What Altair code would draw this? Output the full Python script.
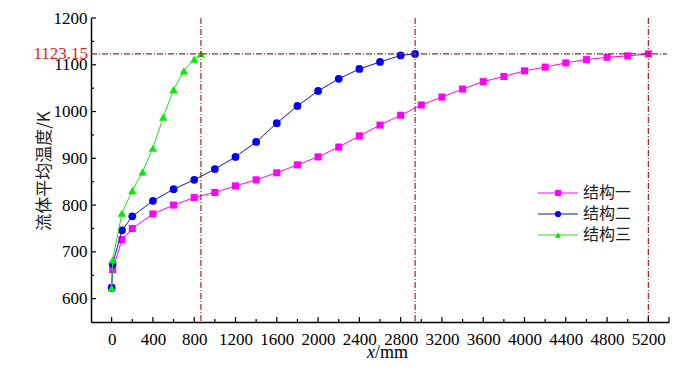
import altair as alt
import pandas as pd

# ---- data ----
x_s1 = [0, 10, 100, 200, 400, 600, 800, 1000, 1200, 1400, 1600, 1800, 2000, 2200,
        2400, 2600, 2800, 3000, 3200, 3400, 3600, 3800, 4000, 4200, 4400, 4600,
        4800, 5000, 5200]
y_s1 = [623, 662, 726, 750, 781, 800, 816, 827, 841, 854, 869, 886, 903, 924,
        948, 971, 992, 1014, 1031, 1048, 1064, 1075, 1087, 1095, 1104, 1111,
        1116, 1119, 1123.15]

x_s2 = [0, 10, 100, 200, 400, 600, 800, 1000, 1200, 1400, 1600, 1800, 2000, 2200,
        2400, 2600, 2800, 2940]
y_s2 = [623, 674, 746, 776, 809, 834, 854, 877, 903, 935, 975, 1012, 1044, 1070,
        1091, 1106, 1120, 1123.15]

x_s3 = [0, 10, 100, 200, 300, 400, 500, 600, 700, 800, 865]
y_s3 = [623, 683, 783, 831, 871, 922, 988, 1047, 1087, 1112, 1123.15]

series_names = ["结构一", "结构二", "结构三"]
series_colors = ["#FF00FF", "#0000FF", "#00EE00"]
line_colors = ["#FF00FF", "#1515C8", "#22DD22"]
series_shapes = ["square", "circle", "triangle-up"]
marker_sizes = [50, 60, 70]

x_ticks_major = [0, 400, 800, 1200, 1600, 2000, 2400, 2800, 3200, 3600, 4000,
                 4400, 4800, 5200]
x_ticks_end = [5400]
x_ticks_minor = [200, 600, 1000, 1400, 1800, 2200, 2600, 3000, 3400, 3800, 4200,
                 4600, 5000]
y_ticks_major = [600, 700, 800, 900, 1000, 1100, 1200]
y_ticks_minor = [650, 750, 850, 950, 1050, 1150]

x_domain = [-200, 5400]
y_domain = [550, 1200]

vline_x = [865, 2940, 5200]
hline_y = [1123.15]
hline_label = "1123.15"

x_title_italic = "x"
x_title_rest = "/mm"
y_title = "流体平均温度/K"

W, H = 578, 304
SERIF = "Liberation Serif"
CJK = "Noto Sans CJK SC"
REF = "#B01E1E"

xs = alt.Scale(domain=x_domain, nice=False, zero=False)
ys = alt.Scale(domain=y_domain, nice=False, zero=False)
xaxis = alt.Axis(values=x_ticks_major, format="d", ticks=False, grid=False, title=None,
                 domainColor="black", domainWidth=1.5, labelFont=SERIF,
                 labelFontSize=17, labelColor="black", labelPadding=9,
                 labelOverlap=False, labelFlush=False)
yaxis = alt.Axis(values=y_ticks_major, format="d", ticks=False, grid=False, title=None,
                 domainColor="black", domainWidth=1.5, labelFont=SERIF,
                 labelFontSize=17, labelColor="black", labelPadding=4,
                 labelOverlap=False, labelFlush=False)


def X(f):
    return alt.X(f, type="quantitative", scale=xs, axis=xaxis)


def Y(f):
    return alt.Y(f, type="quantitative", scale=ys, axis=yaxis)


layers = []

# series
for xv, yv, i in [(x_s1, y_s1, 0), (x_s2, y_s2, 1), (x_s3, y_s3, 2)]:
    df = pd.DataFrame({"x": xv, "y": yv})
    base = alt.Chart(df)
    layers.append(base.mark_line(color=line_colors[i], strokeWidth=1).encode(
        x=X("x"), y=Y("y")))
    layers.append(base.mark_point(filled=True, opacity=1, shape=series_shapes[i],
                                  size=marker_sizes[i], color=series_colors[i]).encode(
        x=X("x"), y=Y("y")))

# reference lines
vdf = pd.DataFrame({"x": vline_x, "top": [y_domain[1]] * len(vline_x),
                    "bot": [y_domain[0]] * len(vline_x)})
layers.append(alt.Chart(vdf).mark_rule(color=REF, strokeWidth=1.2,
                                       strokeDash=[6, 2, 1, 2]).encode(
    x=X("x"), y=Y("top"), y2="bot"))
hdf = pd.DataFrame({"y": hline_y, "x0": [x_domain[0]], "x1": [x_domain[1] - 20]})
layers.append(alt.Chart(hdf).mark_rule(color=REF, strokeWidth=1.2,
                                       strokeDash=[6, 2, 1, 2]).encode(
    y=Y("y"), x=X("x0"), x2="x1"))
hl = pd.DataFrame({"y": hline_y, "t": [hline_label]})
layers.append(alt.Chart(hl).mark_text(align="right", baseline="middle", font=SERIF,
                                      fontSize=17, color="#E0201B").encode(
    y=Y("y"), x=alt.value(-3), text="t:N"))


# inward ticks
def xticks(vals, length):
    return alt.Chart(pd.DataFrame({"v": vals})).mark_rule(color="black", strokeWidth=1.2).encode(
        x=X("v"), y=alt.value(H), y2=alt.value(H - length))


def yticks(vals, length):
    return alt.Chart(pd.DataFrame({"v": vals})).mark_rule(color="black", strokeWidth=1.2).encode(
        y=Y("v"), x=alt.value(0), x2=alt.value(length))


layers += [xticks(x_ticks_major + x_ticks_end, 5), xticks(x_ticks_minor, 3),
           yticks(y_ticks_major, 5), yticks(y_ticks_minor, 3)]

# titles
layers.append(alt.Chart(pd.DataFrame({"t": [x_title_italic]})).mark_text(
    align="right", baseline="alphabetic", font=SERIF, fontSize=18, fontStyle="italic",
    color="black").encode(x=alt.value(284), y=alt.value(340), text="t:N"))
layers.append(alt.Chart(pd.DataFrame({"t": [x_title_rest]})).mark_text(
    align="left", baseline="alphabetic", font=SERIF, fontSize=18,
    color="black").encode(x=alt.value(284), y=alt.value(340), text="t:N"))
layers.append(alt.Chart(pd.DataFrame({"t": [y_title]})).mark_text(
    align="center", baseline="middle", font=CJK, fontSize=17, angle=270,
    color="#222222").encode(x=alt.value(-46), y=alt.value(153), text="t:N"))

# legend
leg_rows = [175, 196, 217]
for i, name in enumerate(series_names):
    ry = leg_rows[i]
    d = pd.DataFrame({"t": [name]})
    layers.append(alt.Chart(d).mark_rule(color=line_colors[i], strokeWidth=1.2).encode(
        x=alt.value(447), x2=alt.value(487), y=alt.value(ry)))
    layers.append(alt.Chart(d).mark_point(filled=True, opacity=1, shape=series_shapes[i],
                                          size=38, color=series_colors[i]).encode(
        x=alt.value(467), y=alt.value(ry)))
    layers.append(alt.Chart(d).mark_text(align="left", baseline="middle", font=CJK,
                                         fontSize=16, color="#222222").encode(
        x=alt.value(492), y=alt.value(ry), text="t:N"))

chart = alt.layer(*layers).properties(
    width=W, height=H,
    autosize=alt.AutoSizeParams(type="none"),
    padding={"left": 83, "top": 10, "right": 6, "bottom": 39},
    background="white",
).configure_view(stroke=None).configure_axis(labelFont=SERIF)

chart.save("out.html", embed_options={"renderer": "svg", "actions": False})
